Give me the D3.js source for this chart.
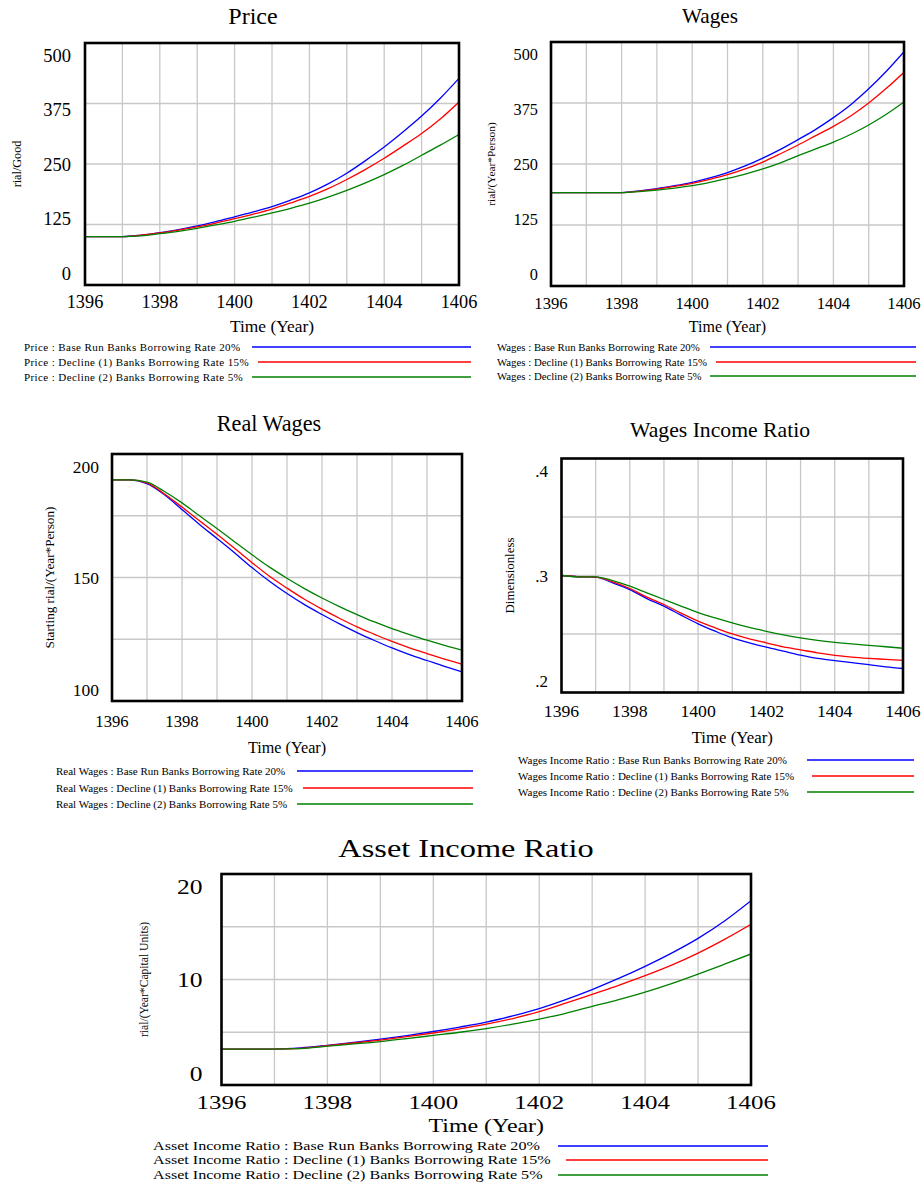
<!DOCTYPE html>
<html><head><meta charset="utf-8">
<script src="https://cdn.jsdelivr.net/npm/d3@7"></script>
<style>body{margin:0;background:#fff}svg{display:block}text{font-family:"Liberation Serif","Times New Roman",serif;fill:#000}</style>
</head><body>
<svg id="c" width="923" height="1184"></svg>
<script>
const years = [1396,1396.5,1397,1397.5,1398,1398.5,1399,1399.5,1400,1400.5,1401,1401.5,1402,1402.5,1403,1403.5,1404,1404.5,1405,1405.5,1406];
const xTickLabels = [1396,1398,1400,1402,1404,1406];
const scenarios = ["Base Run Banks Borrowing Rate 20%","Decline (1) Banks Borrowing Rate 15%","Decline (2) Banks Borrowing Rate 5%"];
const colors = ["#0000ff","#ff0000","#008000"];

const priceBase  = [100,100,100,103,108,114.5,122,131,141,151,162,175.5,190.5,209,231,257,285,316,349,386,427];
const priceDecl1 = [100,100,100,103,107.5,113.5,120,128,137,146.5,157,169.5,183,199,218,239,262,287,313,343,378];
const priceDecl2 = [100,100,100,101.5,106,111,117,124,131.5,140,149,158.5,169,181.5,195.5,211,228,247,268,289,311];
const priceTicks = [0,125,250,375,500];

const wagesBase  = [191.5,191.5,191.5,191.5,191.5,195,199.5,205.5,212.5,221.5,232.5,246,262,280,300,321,345,372,404,440,480];
const wagesDecl1 = [191.5,191.5,191.5,191.5,191.5,194.5,198.5,204,210.5,218.5,228,240,254,271,289,308,327,349,375,405,438];
const wagesDecl2 = [191.5,191.5,191.5,191.5,191.5,193.5,196.5,200.5,205.5,212.5,220.5,229.5,240,252.5,267,281,295,311,330,352,377];
const wagesTicks = [0,125,250,375,500];

const realBase  = [189.5,189.5,188,183.5,177.5,171.5,165.8,160,154,148.5,143.5,139,135,131.2,127.7,124.5,121.5,118.8,116.4,114,111.8];
const realDecl1 = [189.5,189.5,188.3,183.8,178.5,173,167.5,161.8,156,150.5,145.7,141.2,137.2,133.5,130,127,124.1,121.5,119.2,117,114.9];
const realDecl2 = [189.5,189.5,188.6,184.8,180.2,175,169.8,164.5,159.2,154.2,149.7,145.5,141.7,138.2,135,132,129.3,126.9,124.6,122.5,120.6];
const realTicks = [100,150,200];

const wirBase  = [0.3,0.2989,0.2986,0.2937,0.288,0.2803,0.2738,0.2661,0.2587,0.2524,0.2467,0.2425,0.2387,0.2353,0.2319,0.2291,0.2272,0.2255,0.2238,0.2219,0.2205];
const wirDecl1 = [0.3,0.2989,0.2986,0.2946,0.2889,0.2815,0.2752,0.2678,0.261,0.2553,0.2501,0.2459,0.2425,0.239,0.2365,0.2339,0.2318,0.2303,0.2292,0.2283,0.2274];
const wirDecl2 = [0.3,0.2989,0.2989,0.2957,0.2909,0.2852,0.2795,0.2738,0.2683,0.2637,0.2595,0.2556,0.2523,0.2493,0.2467,0.2446,0.2429,0.2415,0.2403,0.2391,0.2378];
const wirTicks = [0.2,0.3,0.4];

const assetBase  = [3.41,3.41,3.41,3.52,3.76,4.03,4.34,4.69,5.07,5.49,5.96,6.56,7.25,8.1,9.05,10.1,11.25,12.5,13.9,15.55,17.47];
const assetDecl1 = [3.41,3.41,3.41,3.48,3.72,3.98,4.26,4.58,4.93,5.32,5.76,6.3,6.95,7.75,8.6,9.45,10.36,11.36,12.5,13.8,15.23];
const assetDecl2 = [3.41,3.41,3.41,3.45,3.68,3.89,4.12,4.4,4.7,5.0,5.35,5.76,6.25,6.8,7.45,8.1,8.8,9.6,10.5,11.45,12.42];
const assetTicks = [0,10,20];

const svg = d3.select("#c");

const panels = [
  {name:"Price", series:[priceBase,priceDecl1,priceDecl2], ticks:priceTicks, fmt:d=>d, sx:1,
   box:[85,43,459,285], title:[253,16,24], ylab:["rial/Good",16.5,12.2],
   xt:[18.3,16.7], yt:[18.5,71], xtitle:[326,17.4],
   leg:{x:24, l1:[252,258,252], l2:471, rows:[347,362,377], fs:11, ls:0.4}},
  {name:"Wages", series:[wagesBase,wagesDecl1,wagesDecl2], ticks:wagesTicks, fmt:d=>d, sx:1,
   box:[551,42,904,286], title:[710,16,21.2], ylab:["rial/(Year*Person)",490.7,11.4],
   xt:[16.7,17.3], yt:[16.3,538], xtitle:[326,16],
   leg:{x:497, l1:[710,716,710], l2:916, rows:[347,362,376], fs:10.8, ls:0}},
  {name:"Real Wages", series:[realBase,realDecl1,realDecl2], ticks:realTicks, fmt:d=>d, sx:1,
   box:[112,454,462,701], title:[269,423,22.2], ylab:["Starting rial/(Year*Person)",49.2,13.2],
   xt:[16.7,20], yt:[17.5,99], xtitle:[747.3,16.2],
   leg:{x:56, l1:[297,303,297], l2:473, rows:[771,788,804], fs:11, ls:0}},
  {name:"Wages Income Ratio", series:[wirBase,wirDecl1,wirDecl2], ticks:wirTicks, fmt:d=>d3.format(".1f")(d).replace(/^0/,""), sx:1,
   box:[561.5,458.5,903,692.5], title:[720,429,21.7], ylab:["Dimensionless",509.5,12.9],
   xt:[17.7,18.6], yt:[17,548], xtitle:[736.7,16.8],
   leg:{x:518, l1:[807,812,807], l2:914, rows:[760,776,792], fs:11, ls:0}},
  {name:"Asset Income Ratio", series:[assetBase,assetDecl1,assetDecl2], ticks:assetTicks, fmt:d=>d, sx:1.265,
   box:[221.5,874,751,1085], title:[466,848,25.6], ylab:["rial/(Year*Capital Units)",143.5,11.6],
   xt:[19.7,16.7], yt:[20.2,202.6], xtitle:[1125,18.9],
   leg:{x:153, l1:[558,566,558], l2:768, rows:[1146,1160,1175], fs:12.75, ls:0}}
];

function txt(g, x, y, s, fs, anchor, sx, ls){
  return g.append("text")
    .attr("transform",`translate(${x},${y}) scale(${sx},1)`)
    .attr("dy","0.35em").attr("text-anchor",anchor)
    .style("font-size",fs+"px").style("letter-spacing",(ls||0)+"px").text(s);
}

panels.forEach((p,pi)=>{
  const [x0,y0,x1,y1] = p.box;
  const dom = [p.ticks[0], p.ticks[p.ticks.length-1]];
  const x = d3.scaleLinear().domain([1396,1406]).range([x0,x1]);
  const y = d3.scaleLinear().domain(dom).range([y1,y0]);
  const yl = d3.scaleLinear().domain(dom).range([y1-11.5,y0+12.5]);
  const g = svg.append("g");

  // grid
  const vg = d3.range(1397,1406);
  g.selectAll(".vg").data(vg).join("line")
    .attr("x1",d=>x(d)).attr("x2",d=>x(d)).attr("y1",y0).attr("y2",y1)
    .attr("stroke","#c8c8c8").attr("stroke-width",1.3);
  const hg = d3.range(1,4).map(i=>dom[0]+(dom[1]-dom[0])*i/4);
  g.selectAll(".hg").data(hg).join("line")
    .attr("x1",x0).attr("x2",x1).attr("y1",d=>y(d)).attr("y2",d=>y(d))
    .attr("stroke","#c8c8c8").attr("stroke-width",1.3);

  const cid = "clip"+pi;
  svg.append("clipPath").attr("id",cid).append("rect")
    .attr("x",x0).attr("y",y0).attr("width",x1-x0).attr("height",y1-y0);

  const line = d3.line().x((d,i)=>x(years[i])).y(d=>y(d)).curve(d3.curveMonotoneX);
  g.append("g").attr("clip-path",`url(#${cid})`).selectAll("path").data(p.series).join("path")
    .attr("d",line).attr("fill","none").attr("stroke",(d,i)=>colors[i]).attr("stroke-width",1.3)
    .attr("stroke-linejoin","round");

  g.append("rect").attr("x",x0).attr("y",y0).attr("width",x1-x0).attr("height",y1-y0)
    .attr("fill","none").attr("stroke","#000").attr("stroke-width",2.6);

  txt(g, p.title[0], p.title[1], p.name, p.title[2], "middle", p.sx);

  xTickLabels.forEach(d=>txt(g, x(d), y1+p.xt[1], d, p.xt[0], "middle", p.sx));
  p.ticks.forEach(d=>txt(g, p.yt[1], yl(d), p.fmt(d), p.yt[0], "end", p.sx));

  txt(g, (x0+x1)/2, p.xtitle[0], "Time (Year)", p.xtitle[1], "middle", p.sx);

  const cy = (y0+y1)/2;
  g.append("text").attr("transform",`translate(${p.ylab[1]},${cy}) rotate(-90)`).attr("dy","0.35em")
    .attr("text-anchor","middle").style("font-size",p.ylab[2]+"px").text(p.ylab[0]);

  const L = p.leg;
  scenarios.forEach((s,i)=>{
    txt(g, L.x, L.rows[i], p.name+" : "+s, L.fs, "start", p.sx, L.ls);
    g.append("line").attr("x1",L.l1[i]).attr("x2",L.l2).attr("y1",L.rows[i]).attr("y2",L.rows[i])
      .attr("stroke",colors[i]).attr("stroke-width",1.3);
  });
});
</script>
</body></html>
